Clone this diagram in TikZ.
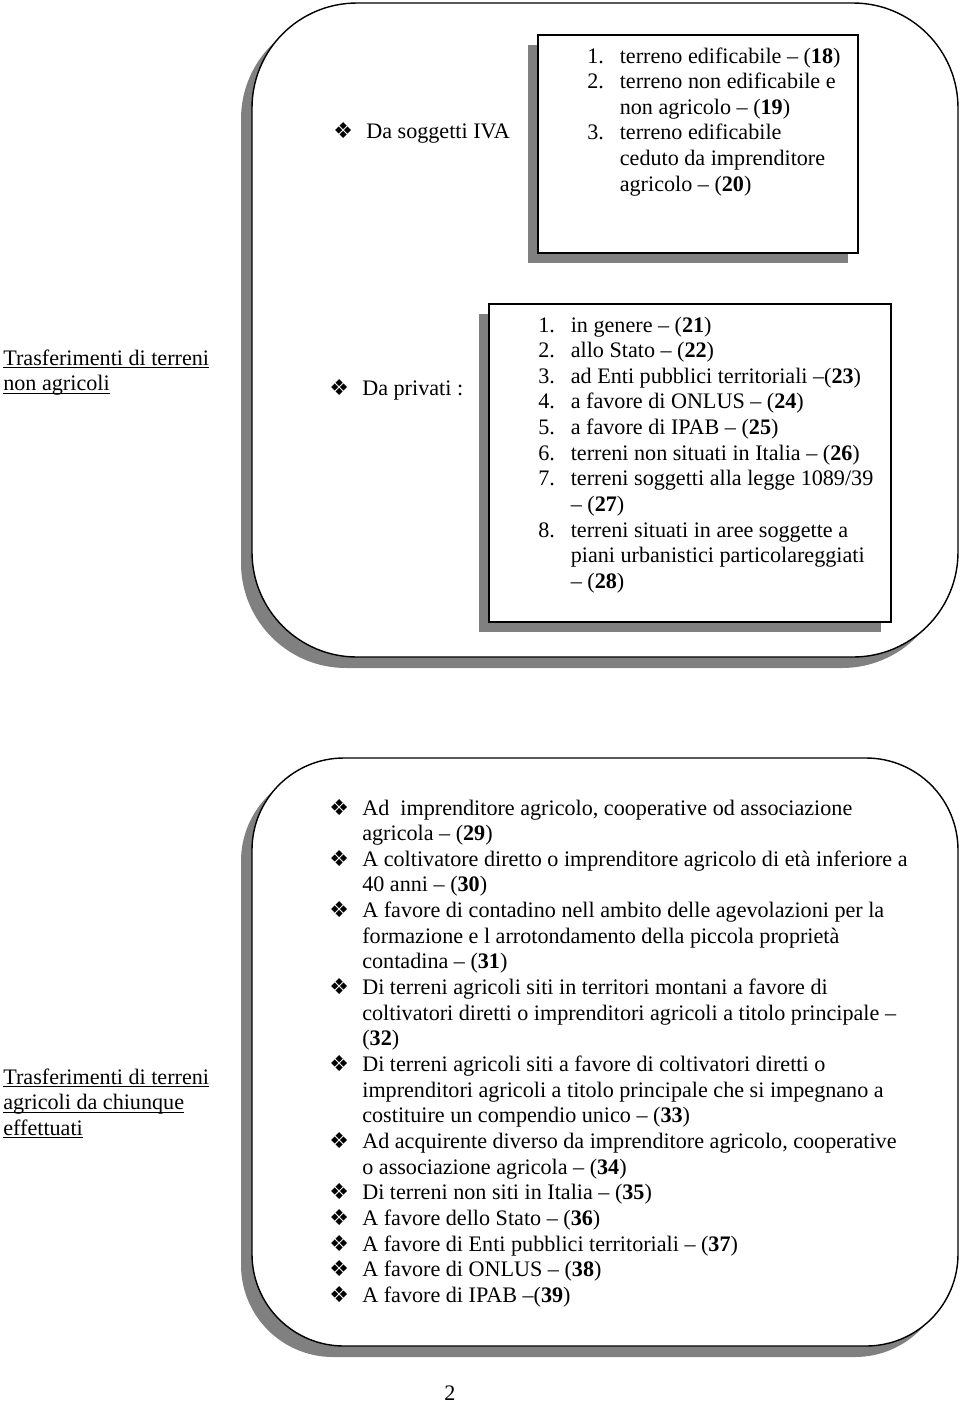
\documentclass[tikz,border=0pt]{standalone}
\usepackage{fontspec}
\setmainfont{Liberation Serif}
\newfontfamily\dingfont{DejaVu Sans}
\usepackage{tikz}

\definecolor{shadowgray}{RGB}{128,128,128}
\newcommand{\dia}{{\dingfont\fontsize{12.5}{12}\selectfont ❖}}
\newcommand{\bl}{\makebox[0.66cm][l]{\dia}}
\newcommand{\nm}[1]{\makebox[0.65cm][l]{#1.}}
\newcommand{\nr}[1]{(\textbf{#1})}
\newcommand{\ul}[1]{\underline{\smash{#1}}}

\begin{document}
\begin{tikzpicture}[x=0.02cm,y=-0.02cm,
	every node/.style={inner sep=0pt, anchor=base west, font=\fontsize{12.6}{14.6}\selectfont},
	frame/.style={draw=black, line width=0.8pt, fill=white},
	shade/.style={fill=shadowgray, draw=none}]
	\useasboundingbox (0,0) rectangle (960,1404);

	% upper frame
	\fill[shade, rounded corners=2.1cm] (241,14) rectangle (947,668);
	\draw[frame, rounded corners=2.1cm] (252,3) rectangle (958,657);
	\fill[shade] (528,45) rectangle (848,263);
	\draw[frame] (538,35) rectangle (858,253);
	\fill[shade] (479,314) rectangle (881,632);
	\draw[frame] (489,304) rectangle (891,622);

	% lower frame
	\fill[shade, rounded corners=1.84cm] (241,769) rectangle (947,1357);
	\draw[frame, rounded corners=1.84cm] (252,758) rectangle (958,1346);

	\node (nonagr) at (3,365) {\begin{tabular}[t]{@{}l@{}}
		\ul{Trasferimenti di terreni}\\
		\ul{non agricoli}
	\end{tabular}};
	\node (iva) at (333,138) {\bl Da soggetti IVA};
	\node (ivalist) at (587,63) {\begin{tabular}[t]{@{}l@{}l@{}}
		\nm{1} & terreno edificabile -- \nr{18}\\
		\nm{2} & terreno non edificabile e\\
		       & non agricolo -- \nr{19}\\
		\nm{3} & terreno edificabile\\
		       & ceduto da imprenditore\\
		       & agricolo -- \nr{20}
	\end{tabular}};
	\node (priv) at (329,395) {\bl Da privati :};
	\node (privlist) at (538,332) {\begin{tabular}[t]{@{}l@{}l@{}}
		\nm{1} & in genere -- \nr{21}\\
		\nm{2} & allo Stato -- \nr{22}\\
		\nm{3} & ad Enti pubblici territoriali --\nr{23}\\
		\nm{4} & a favore di ONLUS -- \nr{24}\\
		\nm{5} & a favore di IPAB -- \nr{25}\\
		\nm{6} & terreni non situati in Italia -- \nr{26}\\
		\nm{7} & terreni soggetti alla legge 1089/39\\
		       & -- \nr{27}\\
		\nm{8} & terreni situati in aree soggette a\\
		       & piani urbanistici particolareggiati\\
		       & -- \nr{28}
	\end{tabular}};

	\node (agr) at (3,1084) {\begin{tabular}[t]{@{}l@{}}
		\ul{Trasferimenti di terreni}\\
		\ul{agricoli da chiunque}\\
		\ul{effettuati}
	\end{tabular}};
	\node (agrlist) at (329,815) {\begin{tabular}[t]{@{}l@{}l@{}}
		\bl & Ad\ \ imprenditore agricolo, cooperative od associazione\\
		    & agricola -- \nr{29}\\
		\bl & A coltivatore diretto o imprenditore agricolo di età inferiore a\\
		    & 40 anni -- \nr{30}\\
		\bl & A favore di contadino nell ambito delle agevolazioni per la\\
		    & formazione e l arrotondamento della piccola proprietà\\
		    & contadina -- \nr{31}\\
		\bl & Di terreni agricoli siti in territori montani a favore di\\
		    & coltivatori diretti o imprenditori agricoli a titolo principale --\\
		    & \nr{32}\\
		\bl & Di terreni agricoli siti a favore di coltivatori diretti o\\
		    & imprenditori agricoli a titolo principale che si impegnano a\\
		    & costituire un compendio unico -- \nr{33}\\
		\bl & Ad acquirente diverso da imprenditore agricolo, cooperative\\
		    & o associazione agricola -- \nr{34}\\
		\bl & Di terreni non siti in Italia -- \nr{35}\\
		\bl & A favore dello Stato -- \nr{36}\\
		\bl & A favore di Enti pubblici territoriali -- \nr{37}\\
		\bl & A favore di ONLUS -- \nr{38}\\
		\bl & A favore di IPAB --\nr{39}
	\end{tabular}};

	\node[anchor=base] (page) at (450,1400) {2};
\end{tikzpicture}
\end{document}
